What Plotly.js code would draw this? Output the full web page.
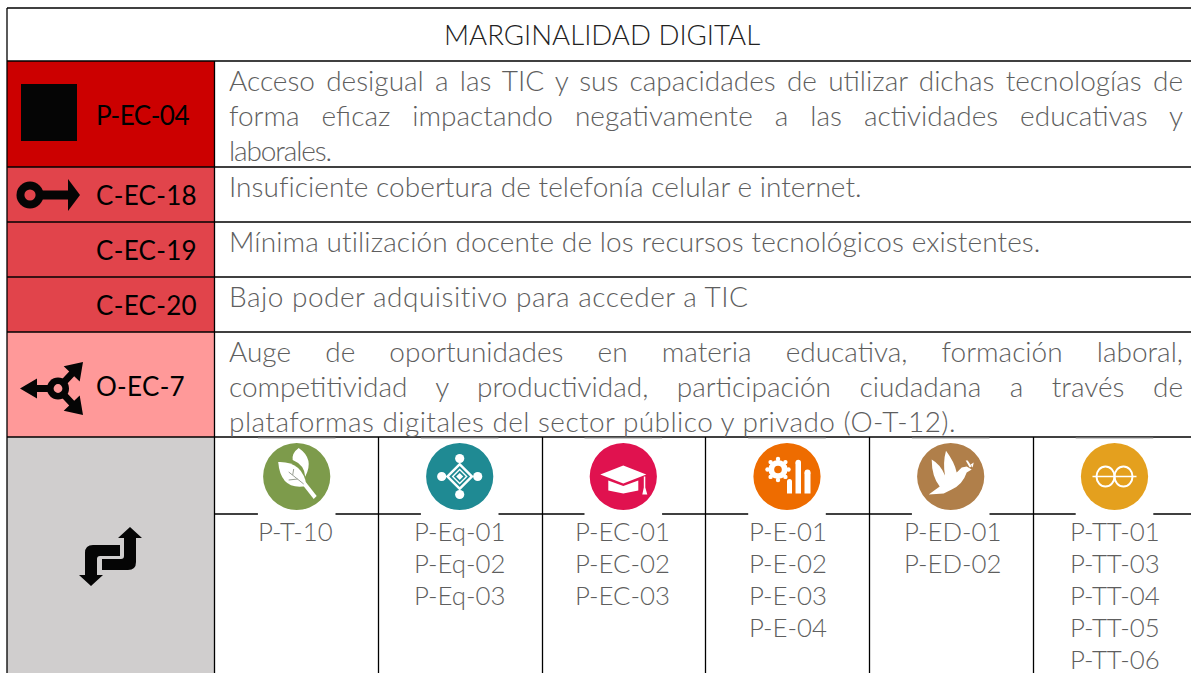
<!DOCTYPE html>
<html><head><meta charset="utf-8">
<script src="https://cdn.plot.ly/plotly-3.0.1.min.js"></script>
<style>html,body{margin:0;padding:0;background:#fff}#c{width:1191px;height:673px}</style>
</head><body><div id="c"></div>
<script>
const title = "MARGINALIDAD DIGITAL";
const codes = ["P-EC-04","C-EC-18","C-EC-19","C-EC-20","O-EC-7"];
const rowColors = ["#CC0000","#E1444B","#E1444B","#E1444B","#FF9999"];
const descriptions = [
 ["Acceso desigual a las TIC y sus capacidades de utilizar dichas tecnologías de","forma eficaz impactando negativamente a las actividades educativas y","laborales."],
 ["Insuficiente cobertura de telefonía celular e internet."],
 ["Mínima utilización docente de los recursos tecnológicos existentes."],
 ["Bajo poder adquisitivo para acceder a TIC"],
 ["Auge de oportunidades en materia educativa, formación laboral,","competitividad y productividad, participación ciudadana a través de","plataformas digitales del sector público y privado (O-T-12)."]
];
const justified = [[1,1,0],[0],[0],[0],[1,1,0]];
const lineWidths = [[954,954,102],[632],[812],[520],[954,954,727]];
const codeWidths = [93,101,101,101,89];
const policyLists = [
 ["P-T-10"],
 ["P-Eq-01","P-Eq-02","P-Eq-03"],
 ["P-EC-01","P-EC-02","P-EC-03"],
 ["P-E-01","P-E-02","P-E-03","P-E-04"],
 ["P-ED-01","P-ED-02"],
 ["P-TT-01","P-TT-03","P-TT-04","P-TT-05","P-TT-06"]
];
const iconColors = ["#7D9B4B","#1F8A93","#E0124F","#EE6C00","#B07F4A","#E4A01E"];

// layout
const L=7, R=1191, T=8, B=673, C1=214.5;
const rowY=[61,167,222,277,332,437];
const colX=[214.5,378.5,542.5,705.5,869.5,1033.5,1191];
const iconCx=[296.7,459.7,623.3,787,950.7,1114.5], iconCy=476.5, subY=514;
const textFont="Lato, sans-serif", gray="#5E5E5E";

const shapes=[], ann=[];
const rect=(x0,y0,x1,y1,fill)=>shapes.push({type:'rect',x0,y0,x1,y1,fillcolor:fill,line:{width:0},layer:'below'});
const line=(x0,y0,x1,y1,c='#000',w=1.3)=>shapes.push({type:'line',x0,y0,x1,y1,line:{color:c,width:w}});
const path=(d,fill)=>shapes.push({type:'path',path:d,fillcolor:fill,line:{width:0}});
const circle=(cx,cy,r,fill)=>shapes.push({type:'circle',x0:cx-r,x1:cx+r,y0:cy-r,y1:cy+r,fillcolor:fill,line:{width:0}});
const poly=(pts,ox,oy,fill)=>path('M'+pts.map(p=>(p[0]+ox)+','+(p[1]+oy)).join('L')+'Z',fill);
const text=(x,y,t,size,color,anchor='left',weight=300)=>ann.push({x,y,text:t,showarrow:false,xanchor:anchor,yanchor:'middle',align:anchor,
  font:{family:textFont,size,color,weight},xref:'x',yref:'y',borderpad:0,captureevents:false});

// left cell fills
for(let i=0;i<5;i++){ rect(L,rowY[i],C1,rowY[i+1],rowColors[i]); }
rect(L,437,C1,B,'#D0CECE');

// rules
line(L,T,R,T); line(L,T,L,B); line(C1,61,C1,B);
rowY.forEach(y=>line(L,y,R,y));
colX.slice(1,6).forEach(x=>line(x,437,x,B));
line(C1,subY,R,subY);

// white backing boxes under the round icons
iconCx.forEach(cx=>{
  shapes.push({type:'rect',x0:cx-38.8,x1:cx+38.8,y0:438,y1:515.5,fillcolor:'#fff',line:{width:0}});
  line(cx-38.8,438,cx+38.8,438,'#999',1);
});

// title + left-cell codes
text(602,34.5,title,27.6,'#222','center');
const codeY=[115,195,250,305,386];
const fits=[];
codes.forEach((c,i)=>{fits.push({i:ann.length,w:codeWidths[i],just:0});text(95,codeY[i],c,26,'#000','left',400);});

// descriptions
const descY=[[80,115,150],[186],[241],[296],[351,386,421]];
descriptions.forEach((ls,i)=>ls.forEach((t,j)=>{
  fits.push({i:ann.length,w:lineWidths[i][j],just:justified[i][j]});
  text(227.5,descY[i][j],t,28,gray);
}));

// policy lists
policyLists.forEach((ls,i)=>{
  const minLeft=[257,413,574,748,903,1069][i];
  ls.forEach((t,j)=>text(minLeft,530.8+j*32,t,25.8,gray));
});

// black marks in the left column
poly([[0,0],[56,0],[56,57],[0,57]],21,84,'#050505');
// key arrow
circle(30,195,13.5,'#050505'); circle(30,195,5.6,'#E1444B');
poly([[0,-4.5],[32,-4.5],[32,-16],[44,0],[32,16],[32,4.5],[0,4.5]],36,195,'#050505');
// three way arrows
const cx3=58,cy3=388.5,K='#050505';
circle(cx3,cy3,11,K); circle(cx3,cy3,4.4,'#FF9999');
poly([[-8,-3.5],[-21,-3.5],[-21,-10],[-38,0],[-21,10],[-21,3.5],[-8,3.5]],cx3,cy3,K);
const armUp=[[8,-3.4],[16.2,-12.2],[21.7,-7],[25,-26.5],[5.7,-22.2],[11.2,-17],[3,-8.2]];
poly(armUp,cx3,cy3,K);
poly(armUp.map(p=>[p[0],-p[1]]),cx3,cy3,K);
// double bent arrows
path('M130,527 L142,538 L136,538 L136,562 Q136,570 128,570 L102,570 L102,559 L121,559 Q124,559 124,556 L124,538 L118,538 Z',K);
path('M91,586 L79,575 L85,575 L85,553 Q85,545 93,545 L120,545 L120,556 L100,556 Q97,556 97,559 L97,575 L103,575 Z',K);

// round icons
iconCx.forEach((cx,i)=>circle(cx,iconCy,33.6,iconColors[i]));
const W='#FFFFFF';
let ox,oy;
const rel=(s,x,y)=>s.replace(/(-?\d+\.?\d*),(-?\d+\.?\d*)/g,(m,a,b)=>(+a+x)+','+(+b+y));
// leaf
ox=iconCx[0];oy=iconCy+2.5;
path(rel('M-18.5,-17 Q6,-18 10,7 Q-16,12 -18.5,-17 Z',ox,oy),W);
path(rel('M2,-31 Q18,-20 8.5,-2.3 Q8,-14 -4,-19 Q-5,-26 2,-31 Z',ox,oy),W);
poly([[6,6],[9,3],[20,17],[17,20]],ox,oy,W);
line(ox-8,oy-7,ox+7,oy+5,'#9A9F94',1);
line(ox-4,oy-4,ox-3,oy-10,'#9A9F94',1);
line(ox-8,oy+1,ox+1,oy,'#9A9F94',1);
// diamond-cross
ox=iconCx[1];oy=iconCy;
poly([[0,-14],[14,0],[0,14],[-14,0]],ox,oy,W);
poly([[0,-10.5],[10.5,0],[0,10.5],[-10.5,0]],ox,oy,iconColors[1]);
poly([[0,-8],[8,0],[0,8],[-8,0]],ox,oy,W);
poly([[0,-6],[6,0],[0,6],[-6,0]],ox,oy,iconColors[1]);
poly([[0,-3.5],[3.5,0],[0,3.5],[-3.5,0]],ox,oy,W);
[[0,-18],[0,18],[-18,0],[18,0]].forEach(p=>circle(ox+p[0],oy+p[1],4.6,W));
// cap
ox=iconCx[2];
poly([[0,-11],[23,-2],[0,7],[-23,-2]],ox,oy,W);
poly([[-15,4],[0,9.5],[15,4],[15,14],[0,17],[-15,14]],ox,oy,W);
poly([[20.5,0],[22,0],[22,11],[24,18],[19,18],[20.5,11]],ox,oy,W);
// gear + bars
ox=iconCx[3];
const gx=ox-9,gy=oy-7;
circle(gx,gy,9.6,W);
[[0,-10.5],[7.4,-7.4],[10.5,0],[7.4,7.4],[0,10.5],[-7.4,7.4],[-10.5,0],[-7.4,-7.4]].forEach(p=>circle(gx+p[0],gy+p[1],2.2,W));
circle(gx,gy,3.8,iconColors[3]);
[[0,5,5,17],[8.5,14,-14,17],[17.5,23.5,-4,17]].forEach(b=>{
  shapes.push({type:'rect',x0:ox+b[0],x1:ox+b[1],y0:oy+b[2],y1:oy+b[3],fillcolor:W,line:{width:0}});
  circle(ox+(b[0]+b[1])/2,oy+b[2],(b[1]-b[0])/2,W);
});
// dove
ox=iconCx[4];
path(rel('M-19,-17 Q-10,-12 -5.7,-1 Q-8,-14 -4.7,-25.7 Q4,-14 6,-4 L11,-9 L16,-10 L21,-7 L16,-4 Q12,8 1,13 L-7,17 L-22,18 L-11,10 Q-19,0 -19,-17 Z',ox,oy),W);
poly([[15,-16],[17,-16],[21,-10],[19,-9]],ox,oy,W);
poly([[20,-12],[23,-14],[22,-9]],ox,oy,W);
// infinity
ox=iconCx[5];
shapes.push({type:'circle',x0:ox-18,x1:ox,y0:oy-10,y1:oy+10,fillcolor:'rgba(0,0,0,0)',line:{color:W,width:2}});
shapes.push({type:'circle',x0:ox,x1:ox+18,y0:oy-10,y1:oy+10,fillcolor:'rgba(0,0,0,0)',line:{color:W,width:2}});
line(ox-22,oy,ox+22,oy,W,1.5);

const gd=document.getElementById('c');
Plotly.newPlot(gd,[{x:[0,1191],y:[0,673],mode:'markers',marker:{opacity:0},hoverinfo:'skip',showlegend:false,type:'scatter'}],{
  width:1191,height:673,margin:{l:0,r:0,t:0,b:0},paper_bgcolor:'#fff',plot_bgcolor:'#fff',
  xaxis:{range:[0,1191],visible:false,fixedrange:true},
  yaxis:{range:[673,0],visible:false,fixedrange:true},
  shapes,annotations:ann,showlegend:false
},{staticPlot:true,displayModeBar:false}).then(()=>{
  const nodes=gd.querySelectorAll('.annotation-text');
  fits.forEach(o=>{
    const el=nodes[o.i];
    const len=el.getComputedTextLength();
    if(o.just){
      const gaps=(el.textContent.match(/ /g)||[]).length;
      el.style.wordSpacing=((o.w-len)/gaps)+'px';
    } else {
      el.style.letterSpacing=((o.w-len)/el.textContent.length)+'px';
    }
  });
});
</script></body></html>
